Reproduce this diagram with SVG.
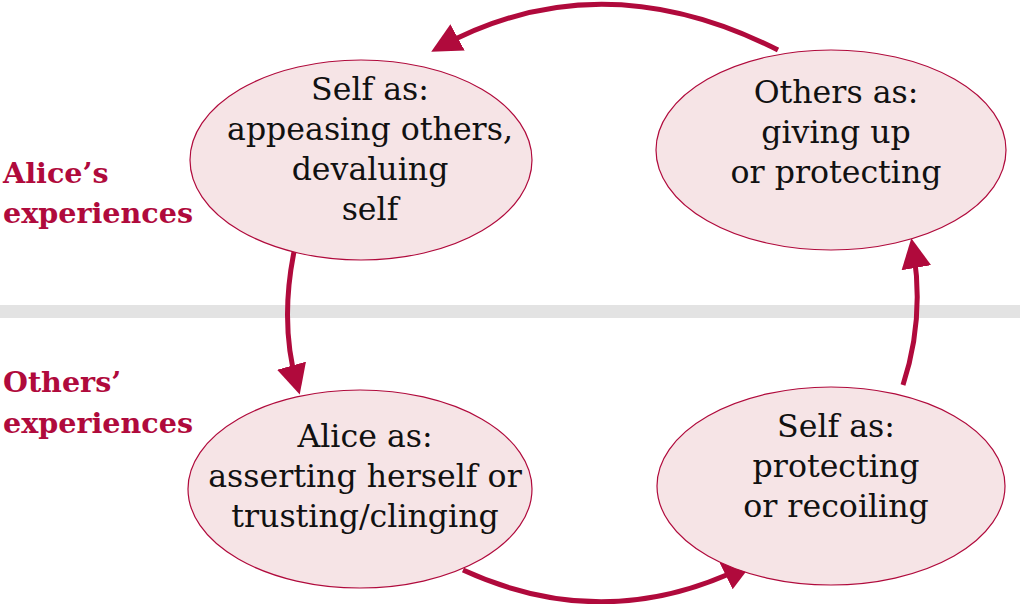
<svg xmlns="http://www.w3.org/2000/svg" width="1020" height="604" viewBox="0 0 1020 604">
<defs>
<style>
.node ellipse{fill:#f6e4e6;stroke:#b00a3c;stroke-width:1.2}
.node text{font-family:"DejaVu Serif","Liberation Serif",serif;font-size:31.6px;fill:#111;text-anchor:middle}
.lbl{font-family:"DejaVu Serif","Liberation Serif",serif;font-size:28.6px;font-weight:bold;fill:#b00a3c}
.conn path{fill:none;stroke:#b00a3c;stroke-width:5;marker-end:url(#ah)}
</style>
<marker id="ah" markerWidth="6" markerHeight="6" refX="4" refY="3" orient="auto" markerUnits="strokeWidth">
<path d="M0,0 L6,3 L0,6 z" fill="#b00a3c"/>
</marker>
</defs>
<rect x="0" y="305" width="1020" height="13" fill="#e3e3e3"/>
<text class="lbl" x="3" y="183">Alice’s</text>
<text class="lbl" x="3" y="223">experiences</text>
<text class="lbl" x="3" y="392">Others’</text>
<text class="lbl" x="3" y="433">experiences</text>
<g class="conn">
<path d="M778,50 Q600,-40 440,47"/>
<path d="M297,238 Q278,318 297,385"/>
<path d="M463,570 Q605,635 744,567"/>
<path d="M903,385 Q925,318 913,248"/>
</g>
<g id="n1" class="node">
<ellipse cx="361" cy="160" rx="171" ry="100"/>
<text x="370" y="100">Self as:</text>
<text x="370" y="140">appeasing others,</text>
<text x="370" y="180">devaluing</text>
<text x="370" y="220">self</text>
</g>
<g id="n2" class="node">
<ellipse cx="831" cy="150" rx="175" ry="100"/>
<text x="836" y="103">Others as:</text>
<text x="836" y="143">giving up</text>
<text x="836" y="183">or protecting</text>
</g>
<g id="n3" class="node">
<ellipse cx="360" cy="489" rx="172" ry="99"/>
<text x="365" y="447">Alice as:</text>
<text x="365" y="487">asserting herself or</text>
<text x="365" y="527">trusting/clinging</text>
</g>
<g id="n4" class="node">
<ellipse cx="831" cy="486" rx="174" ry="99"/>
<text x="836" y="437">Self as:</text>
<text x="836" y="477">protecting</text>
<text x="836" y="517">or recoiling</text>
</g>
</svg>
